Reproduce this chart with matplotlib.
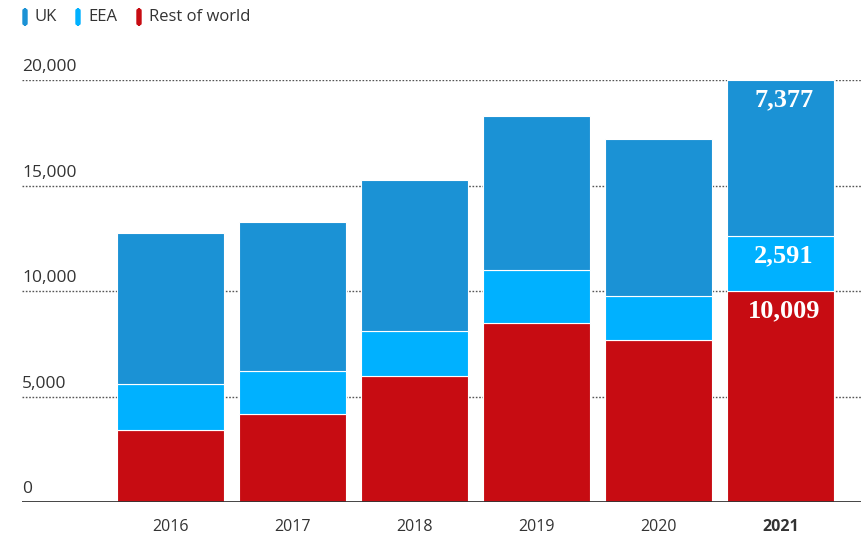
import matplotlib.pyplot as plt
from matplotlib.patches import FancyBboxPatch

# Yearly totals split by origin
years = ["2016", "2017", "2018", "2019", "2020", "2021"]
rest_of_world = [3400, 4170, 5970, 8480, 7680, 10009]
eea = [2190, 2040, 2130, 2520, 2080, 2591]
uk = [7160, 7060, 7160, 7290, 7440, 7377]

C_UK = "#1b92d5"
C_EEA = "#00b1ff"
C_ROW = "#c70c12"
TXT = "#333333"

plt.rcParams["font.family"] = ["Open Sans", "DejaVu Sans"]

fig = plt.figure(figsize=(8.61, 5.35), dpi=100)
ax = fig.add_axes([22 / 861, 33 / 535, 839 / 861, 422 / 535])

x = list(range(len(years)))
w = 0.877
bottom_eea = rest_of_world
bottom_uk = [r + e for r, e in zip(rest_of_world, eea)]

ax.bar(x, rest_of_world, w, color=C_ROW, edgecolor="white", linewidth=0.8, zorder=3)
ax.bar(x, eea, w, bottom=bottom_eea, color=C_EEA, edgecolor="white", linewidth=0.8, zorder=3)
ax.bar(x, uk, w, bottom=bottom_uk, color=C_UK, edgecolor="white", linewidth=0.8, zorder=3)

ax.set_xlim(-1.22, 5.66)
ax.set_ylim(0, 20000)

# dotted gridlines with labels sitting on top of them
for v in [5000, 10000, 15000, 20000]:
    ax.axhline(v, color="#555555", linestyle=(0, (1.2, 1.2)), linewidth=1.0, zorder=1)
for v in [0, 5000, 10000, 15000, 20000]:
    ax.text(-1.22, v + 230, f"{v:,}", ha="left", va="bottom", fontsize=12.5, color=TXT)
ax.axhline(0, color="#333333", linewidth=2, zorder=4)

for s in ax.spines.values():
    s.set_visible(False)
ax.set_yticks([])
ax.set_xticks(x)
ax.set_xticklabels(years, fontsize=11.5, color=TXT)
ax.tick_params(axis="x", length=0, pad=12)
ax.get_xticklabels()[-1].set_fontweight("bold")

# value labels for the latest year
last = len(years) - 1
offset = 380
segments = [
    (rest_of_world[last], rest_of_world[last]),
    (eea[last], bottom_uk[last]),
    (uk[last], bottom_uk[last] + uk[last]),
]
for val, top in segments:
    ax.text(last + 0.03, top - offset, f"{val:,}", ha="center", va="top",
            fontsize=19, fontweight="bold", color="white",
            family=["Liberation Serif", "DejaVu Serif"], zorder=5)

# legend
legend_items = [("UK", C_UK), ("EEA", C_EEA), ("Rest of world", C_ROW)]
lx = [23, 76, 137]
for (name, col), px in zip(legend_items, lx):
    fig.patches.append(FancyBboxPatch((px / 861, (535 - 25) / 535), 4 / 861, 16 / 535,
                                      boxstyle="round,pad=0,rounding_size=0.003",
                                      transform=fig.transFigure, color=col))
    fig.text((px + 12) / 861, (535 - 17) / 535, name, ha="left", va="center",
             fontsize=12, color=TXT)

fig.savefig("out.png", dpi=100)
